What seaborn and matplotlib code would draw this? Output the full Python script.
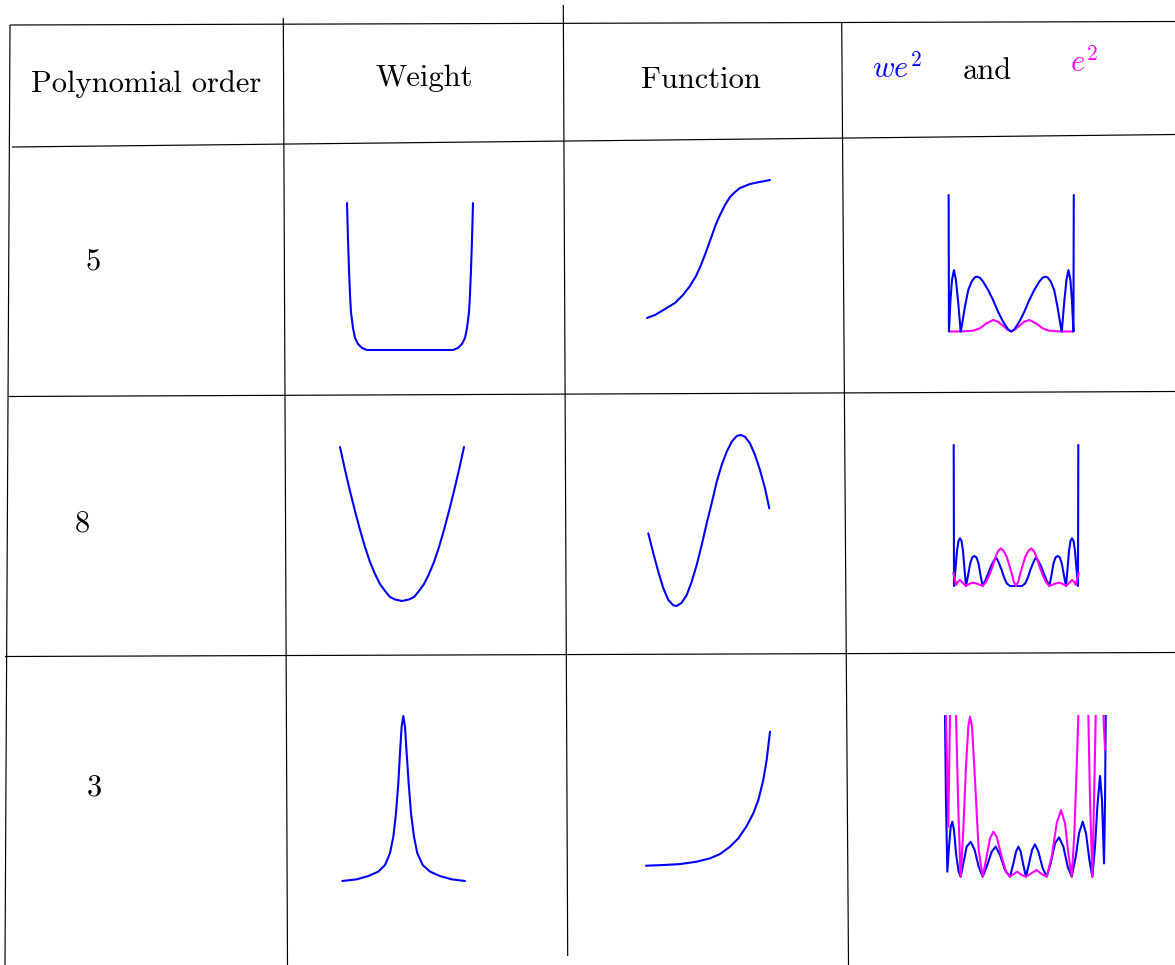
import matplotlib
matplotlib.use("Agg")
import matplotlib.pyplot as plt
import pandas as pd
import seaborn as sns

# ---------------------------------------------------------------------------
# Table content
# ---------------------------------------------------------------------------
header_labels = ["Polynomial order", "Weight", "Function"]
row_orders = ["5", "8", "3"]

# Weight functions on [-1, 1] (heights scaled to the cell)
w5_x = [-1.0, -0.984, -0.968, -0.952, -0.937, -0.905, -0.873, -0.825, -0.762,
        -0.683, 0.0, 0.683, 0.762, 0.825, 0.873, 0.905, 0.937, 0.952, 0.968,
        0.984, 1.0]
w5_y = [1.0, 0.748, 0.544, 0.374, 0.259, 0.150, 0.082, 0.041, 0.014,
        0.0, 0.0, 0.0, 0.014, 0.041, 0.082, 0.150, 0.259, 0.374, 0.544,
        0.748, 1.0]

w8_x = [-1.0, -0.919, -0.839, -0.758, -0.677, -0.597, -0.516, -0.435, -0.355,
        -0.274, -0.194, -0.113, 0.0, 0.113, 0.194, 0.274, 0.355, 0.435, 0.516,
        0.597, 0.677, 0.758, 0.839, 0.919, 1.0]
w8_y = [1.0, 0.851, 0.714, 0.584, 0.461, 0.351, 0.253, 0.175, 0.110,
        0.065, 0.026, 0.010, 0.0, 0.010, 0.026, 0.065, 0.110, 0.175, 0.253,
        0.351, 0.461, 0.584, 0.714, 0.851, 1.0]

w3_x = [-1.0, -0.766, -0.576, -0.413, -0.304, -0.223, -0.168, -0.125, -0.087,
        -0.060, -0.033, -0.005, 0.022, 0.049, 0.082, 0.120, 0.168, 0.223,
        0.310, 0.429, 0.592, 0.783, 1.0]
w3_y = [0.0, 0.010, 0.030, 0.057, 0.097, 0.168, 0.269, 0.410, 0.592,
        0.774, 0.935, 1.0, 0.935, 0.774, 0.592, 0.410, 0.269, 0.168,
        0.097, 0.057, 0.030, 0.010, 0.0]

# Target functions
f5_x = [-1.0, -0.870, -0.707, -0.545, -0.415, -0.301, -0.203, -0.122, -0.041,
        0.041, 0.122, 0.187, 0.268, 0.350, 0.431, 0.512, 0.675, 0.837, 1.0]
f5_y = [0.0, 0.022, 0.065, 0.109, 0.167, 0.232, 0.304, 0.384, 0.478,
        0.580, 0.681, 0.746, 0.819, 0.877, 0.913, 0.942, 0.971, 0.986, 1.0]

f8_x = [-1.0, -0.917, -0.835, -0.752, -0.669, -0.587, -0.531, -0.448, -0.365,
        -0.283, -0.200, -0.117, -0.035, 0.048, 0.131, 0.213, 0.296, 0.379,
        0.461, 0.527, 0.598, 0.681, 0.764, 0.846, 0.929, 1.0]
f8_y = [0.425, 0.308, 0.201, 0.104, 0.035, 0.004, 0.0, 0.019, 0.064,
        0.142, 0.240, 0.357, 0.484, 0.601, 0.727, 0.825, 0.902, 0.961,
        0.994, 1.0, 0.990, 0.951, 0.883, 0.795, 0.688, 0.571]

f3_x = [-1.0, -0.720, -0.452, -0.183, 0.032, 0.194, 0.355, 0.489, 0.624,
        0.731, 0.812, 0.892, 0.946, 1.0]
f3_y = [0.0, 0.005, 0.012, 0.030, 0.055, 0.087, 0.142, 0.204, 0.296,
        0.391, 0.490, 0.640, 0.789, 1.0]

# Weighted squared error (we^2) and squared error (e^2)
we5_x = [-0.990, -0.985, -0.961, -0.937, -0.906, -0.874, -0.835, -0.800, -0.784,
         -0.732, -0.680, -0.627, -0.575, -0.539, -0.496, -0.444, -0.365, -0.287,
         -0.208, -0.129, -0.050, 0.0, 0.050, 0.129, 0.208, 0.287, 0.365, 0.444,
         0.496, 0.539, 0.575, 0.627, 0.680, 0.732, 0.784, 0.800, 0.835, 0.874,
         0.906, 0.937, 0.961, 0.985, 0.990]
we5_y = [1.0, 0.0, 0.23, 0.377, 0.45, 0.377, 0.194, 0.0, 0.035,
         0.182, 0.304, 0.365, 0.397, 0.401, 0.394, 0.365, 0.304, 0.231,
         0.145, 0.072, 0.016, 0.0, 0.016, 0.072, 0.145, 0.231, 0.304, 0.365,
         0.394, 0.401, 0.397, 0.365, 0.304, 0.182, 0.035, 0.0, 0.194, 0.377,
         0.45, 0.377, 0.23, 0.0, 1.0]
e5_x = [-0.98, -0.784, -0.602, -0.496, -0.391, -0.287, -0.208, -0.129, -0.050,
        0.0, 0.050, 0.129, 0.208, 0.287, 0.391, 0.496, 0.602, 0.784, 0.98]
e5_y = [0.0, 0.0, 0.006, 0.023, 0.060, 0.084, 0.072, 0.042, 0.011,
        0.0, 0.011, 0.042, 0.072, 0.084, 0.060, 0.023, 0.006, 0.0, 0.0]

we8_x = [-0.997, -0.992, -0.968, -0.944, -0.920, -0.896, -0.872, -0.848, -0.824,
         -0.800, -0.767, -0.733, -0.700, -0.667, -0.633, -0.600, -0.567, -0.533,
         -0.490, -0.443, -0.400, -0.363, -0.335, -0.309, -0.280, -0.229, -0.190,
         -0.149, -0.096, 0.0, 0.096, 0.149, 0.190, 0.229, 0.280, 0.309, 0.335,
         0.363, 0.400, 0.443, 0.490, 0.533, 0.567, 0.600, 0.633, 0.667, 0.700,
         0.733, 0.767, 0.800, 0.824, 0.848, 0.872, 0.896, 0.920, 0.944, 0.968,
         0.992, 0.997]
we8_y = [1.0, 0.0, 0.12, 0.25, 0.32, 0.338, 0.32, 0.25, 0.12,
         0.0, 0.075, 0.16, 0.203, 0.213, 0.203, 0.16, 0.075, 0.0,
         0.04, 0.090, 0.14, 0.173, 0.19, 0.196, 0.17, 0.113, 0.06,
         0.019, 0.0, 0.0, 0.0, 0.019, 0.06, 0.113, 0.17, 0.196, 0.19,
         0.173, 0.14, 0.090, 0.04, 0.0, 0.075, 0.16, 0.203, 0.213, 0.203,
         0.16, 0.075, 0.0, 0.12, 0.25, 0.32, 0.338, 0.32, 0.25, 0.12,
         0.0, 1.0]
e8_x = [-1.003, -0.960, -0.928, -0.896, -0.853, -0.800, -0.736, -0.683, -0.608,
        -0.533, -0.470, -0.416, -0.375, -0.336, -0.290, -0.245, -0.200, -0.149,
        -0.110, -0.069, -0.035, 0.0, 0.035, 0.069, 0.110, 0.149, 0.200, 0.245,
        0.290, 0.336, 0.375, 0.416, 0.470, 0.533, 0.608, 0.683, 0.736, 0.800,
        0.853, 0.896, 0.928, 0.960, 1.003]
e8_y = [0.095, 0.007, 0.031, 0.043, 0.024, 0.0, 0.017, 0.024, 0.014,
        0.0, 0.035, 0.090, 0.14, 0.196, 0.245, 0.267, 0.25, 0.208,
        0.15, 0.090, 0.03, 0.0, 0.03, 0.090, 0.15, 0.208, 0.25, 0.267,
        0.245, 0.196, 0.14, 0.090, 0.035, 0.0, 0.014, 0.024, 0.017, 0.0,
        0.024, 0.043, 0.031, 0.007, 0.095]

we3_x = [-1.000, -0.988, -0.971, -0.950, -0.929, -0.909, -0.888, -0.863, -0.830,
         -0.805, -0.772, -0.730, -0.680, -0.631, -0.581, -0.531, -0.481, -0.419,
         -0.369, -0.315, -0.253, -0.191, -0.149, -0.116, -0.087, -0.058, -0.025,
         0.008, 0.046, 0.083, 0.120, 0.162, 0.216, 0.266, 0.315, 0.369, 0.419,
         0.473, 0.527, 0.577, 0.627, 0.668, 0.714, 0.755, 0.797, 0.834, 0.867,
         0.896, 0.929, 0.954, 0.979, 0.992, 1.000]
we3_y = [1.000, 0.474, 0.031, 0.186, 0.309, 0.340, 0.289, 0.144, 0.031,
         0.0, 0.082, 0.186, 0.216, 0.165, 0.062, 0.0, 0.062, 0.155,
         0.186, 0.134, 0.041, 0.0, 0.082, 0.155, 0.186, 0.155, 0.072,
         0.0, 0.082, 0.165, 0.200, 0.155, 0.052, 0.0, 0.082, 0.206, 0.243,
         0.186, 0.062, 0.0, 0.124, 0.268, 0.340, 0.268, 0.103, 0.0, 0.186,
         0.433, 0.623, 0.474, 0.082, 0.474, 1.000]
# e^2 for order 3 leaves the cell between pieces, so it is stored piecewise
e3_piece = [0, 0, 0,
            1, 1, 1, 1, 1, 1, 1, 1, 1, 1, 1, 1, 1, 1, 1, 1, 1, 1,
            1, 1, 1, 1, 1, 1, 1, 1, 1, 1, 1, 1, 1, 1, 1, 1, 1,
            2, 2, 2, 2, 2,
            3, 3]
e3_x = [-0.988, -0.959, -0.938,
        -0.863, -0.834, -0.805, -0.772, -0.739, -0.710, -0.689, -0.664, -0.631,
        -0.581, -0.531, -0.490, -0.440, -0.398, -0.357, -0.295, -0.241, -0.191,
        -0.149, -0.100, -0.046, 0.008, 0.058, 0.141, 0.203, 0.266, 0.328, 0.390,
        0.444, 0.494, 0.535, 0.577, 0.610, 0.639, 0.660,
        0.784, 0.805, 0.834, 0.855, 0.876,
        0.971, 0.992]
e3_y = [1.0, 0.309, 1.0,
        1.0, 0.412, 0.0, 0.289, 0.680, 0.928, 0.990, 0.928, 0.639,
        0.165, 0.0, 0.103, 0.237, 0.278, 0.247, 0.124, 0.031, 0.0,
        0.016, 0.031, 0.010, 0.0, 0.016, 0.041, 0.016, 0.0, 0.124, 0.330,
        0.412, 0.330, 0.144, 0.0, 0.268, 0.680, 1.0,
        1.0, 0.474, 0.0, 0.474, 1.0,
        1.0, 0.784]

# ---------------------------------------------------------------------------
# Figure set-up
# ---------------------------------------------------------------------------
sns.set_theme(style="white")
plt.rcParams["font.family"] = ["cmr10", "DejaVu Serif"]
plt.rcParams["mathtext.fontset"] = "cm"
plt.rcParams["axes.unicode_minus"] = False
plt.rcParams["axes.formatter.use_mathtext"] = True
plt.rcParams["text.color"] = "black"

W, H = 1175, 965
fig = plt.figure(figsize=(W / 100, H / 100), dpi=100)
fig.patch.set_facecolor("white")
base = fig.add_axes([0, 0, 1, 1])
base.set_xlim(0, W)
base.set_ylim(H, 0)
base.axis("off")

BLUE = "#0000ff"
MAGENTA = "#ff00ff"

# Hand-ruled table lines (slightly skewed)
rules = [
    ((10, 25), (1175, 21.5)),
    ((12, 147), (1175, 134.5)),
    ((8, 396.5), (1175, 391.5)),
    ((5, 656.5), (1175, 652.5)),
    ((10, 25), (5, 965)),
    ((283.3, 18), (287.5, 965)),
    ((563.3, 5), (567.7, 956)),
    ((841.7, 22), (848.5, 965)),
]
for (x0, y0), (x1, y1) in rules:
    base.plot([x0, x1], [y0, y1], color="black", lw=0.85, solid_capstyle="butt")

# Header text
FS = 22
base.text(146, 92, header_labels[0], fontsize=FS, ha="center", va="baseline",
          color="black")
base.text(424, 86.5, header_labels[1], fontsize=FS, ha="center", va="baseline",
          color="black")
base.text(701, 88.3, header_labels[2], fontsize=FS, ha="center", va="baseline",
          color="black")
base.text(897, 78, r"$we^2$", fontsize=FS, color=BLUE, ha="center", va="baseline")
base.text(987, 79, "and", fontsize=FS, ha="center", va="baseline", color="black")
base.text(1084, 71.5, r"$e^2$", fontsize=FS, color=MAGENTA, ha="center",
          va="baseline")

# Row labels
for label, (lx, ly) in zip(row_orders, [(93, 270), (82.5, 531.5), (94, 795)]):
    base.text(lx, ly, label, fontsize=FS, ha="center", va="baseline",
              color="black")


def cell_axes(px_left, px_right, py_bottom, py_top, pad=0.06, pad_top=None):
    """Axes whose data box [-1, 1] x [0, 1] lands on the given pixel box."""
    if pad_top is None:
        pad_top = pad
    sx = (px_right - px_left) / 2.0
    sy = py_bottom - py_top
    left = px_left - pad * sx
    width = (2 + 2 * pad) * sx
    bottom_px = py_bottom + pad * sy
    height = (1 + pad + pad_top) * sy
    ax = fig.add_axes([left / W, 1 - bottom_px / H, width / W, height / H])
    ax.set_xlim(-1 - pad, 1 + pad)
    ax.set_ylim(-pad, 1 + pad_top)
    ax.axis("off")
    ax.patch.set_alpha(0)
    return ax


def draw(ax, xs, ys, color, units=None, clip=False):
    df = pd.DataFrame({"x": xs, "y": ys})
    kw = {}
    if units is not None:
        df["piece"] = units
        kw = dict(units="piece", estimator=None)
    sns.lineplot(data=df, x="x", y="y", sort=False, color=color, lw=1.5,
                 ax=ax, legend=False, **kw)
    for line in ax.get_lines():
        line.set_clip_on(clip)
        line.set_solid_joinstyle("round")
    ax.axis("off")


# Row "5"
draw(cell_axes(347, 473, 350, 203), w5_x, w5_y, BLUE)
draw(cell_axes(647, 770, 318, 180), f5_x, f5_y, BLUE)
ax = cell_axes(948.0, 1074.4, 331.5, 195)
draw(ax, e5_x, e5_y, MAGENTA)
draw(ax, we5_x, we5_y, BLUE)

# Row "8"
draw(cell_axes(340, 464, 601, 447), w8_x, w8_y, BLUE)
draw(cell_axes(648.3, 769.3, 606, 435), f8_x, f8_y, BLUE)
ax = cell_axes(953.5, 1078.5, 586, 445)
draw(ax, we8_x, we8_y, BLUE)
draw(ax, e8_x, e8_y, MAGENTA)

# Row "3"
draw(cell_axes(342.3, 465, 881, 716), w3_x, w3_y, BLUE)
draw(cell_axes(646, 770, 865.7, 731.7), f3_x, f3_y, BLUE)
ax = cell_axes(945, 1105.7, 876.7, 715, pad_top=0.0)
draw(ax, we3_x, we3_y, BLUE, clip=True)
draw(ax, e3_x, e3_y, MAGENTA, units=e3_piece, clip=True)

fig.savefig("out.png", dpi=100, facecolor="white")
